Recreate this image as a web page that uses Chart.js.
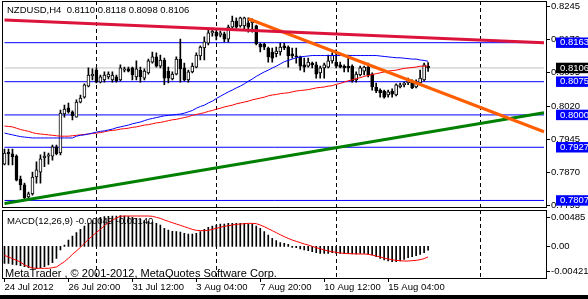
<!DOCTYPE html>
<html>
<head>
<meta charset="utf-8">
<script src="https://cdn.jsdelivr.net/npm/chart.js@4.4.0/dist/chart.umd.min.js"></script>
<style>
  html, body { margin: 0; padding: 0; background: #fff; }
  #wrap { position: relative; width: 588px; height: 299px; overflow: hidden; background: #fff; }
  #main { position: absolute; left: 0; top: 0; }
  #macd { position: absolute; left: 0; top: 209px; }
  #foot { position: absolute; left: 0; top: 295px; width: 588px; height: 4px; background: #000; }
</style>
</head>
<body>
<div id="wrap">
  <canvas id="main" width="588" height="208"></canvas>
  <canvas id="macd" width="588" height="90"></canvas>
  <div id="foot"></div>
</div>
<script>
const symbol = "NZDUSD,H4";

// H4 candles
const opens = [
  0.7889,0.7916,0.7912,0.7907,0.7855,0.7842,0.7815,0.7822,0.7860,0.7871,
  0.7903,0.7907,0.7907,0.7928,0.7914,0.8002,0.8016,0.8007,0.7995,0.8029,
  0.8040,0.8065,0.8088,0.8101,0.8074,0.8079,0.8086,0.8079,0.8086,0.8079,
  0.8101,0.8104,0.8106,0.8086,0.8101,0.8083,0.8095,0.8119,0.8131,0.8110,
  0.8124,0.8099,0.8081,0.8092,0.8126,0.8106,0.8079,0.8097,0.8108,0.8133,
  0.8151,0.8162,0.8185,0.8187,0.8180,0.8183,0.8171,0.8198,0.8212,0.8201,
  0.8201,0.8208,0.8208,0.8201,0.8160,0.8160,0.8151,0.8142,0.8138,0.8142,
  0.8156,0.8153,0.8138,0.8133,0.8131,0.8113,0.8110,0.8117,0.8113,0.8095,
  0.8106,0.8108,0.8122,0.8119,0.8113,0.8110,0.8110,0.8110,0.8079,0.8090,
  0.8099,0.8108,0.8092,0.8063,0.8056,0.8054,0.8045,0.8054,0.8045,0.8063,
  0.8068,0.8072,0.8074,0.8063,0.8072,0.8079,0.8110
];
const highs = [
  0.7923,0.7923,0.7923,0.7910,0.7862,0.7846,0.7826,0.7871,0.7894,0.7910,
  0.7916,0.7914,0.7932,0.7932,0.8011,0.8022,0.8027,0.8009,0.8034,0.8045,
  0.8070,0.8106,0.8104,0.8106,0.8090,0.8097,0.8097,0.8097,0.8090,0.8113,
  0.8108,0.8108,0.8108,0.8122,0.8108,0.8104,0.8126,0.8142,0.8140,0.8135,
  0.8128,0.8108,0.8097,0.8131,0.8171,0.8117,0.8101,0.8117,0.8140,0.8156,
  0.8176,0.8196,0.8196,0.8192,0.8189,0.8187,0.8203,0.8223,0.8219,0.8221,
  0.8221,0.8219,0.8217,0.8203,0.8162,0.8162,0.8153,0.8151,0.8153,0.8162,
  0.8162,0.8156,0.8151,0.8151,0.8133,0.8128,0.8128,0.8119,0.8119,0.8110,
  0.8117,0.8135,0.8140,0.8147,0.8119,0.8113,0.8135,0.8113,0.8097,0.8110,
  0.8110,0.8117,0.8095,0.8072,0.8059,0.8056,0.8056,0.8059,0.8070,0.8072,
  0.8074,0.8083,0.8079,0.8079,0.8101,0.8117,0.8118
];
const lows = [
  0.7887,0.7887,0.7887,0.7851,0.7831,0.7808,0.7810,0.7819,0.7846,0.7846,
  0.7883,0.7889,0.7898,0.7910,0.7910,0.7995,0.8004,0.7989,0.7995,0.8027,
  0.8038,0.8063,0.8079,0.8072,0.8072,0.8074,0.8081,0.8074,0.8074,0.8077,
  0.8097,0.8097,0.8079,0.8079,0.8074,0.8079,0.8092,0.8117,0.8108,0.8106,
  0.8068,0.8072,0.8079,0.8090,0.8074,0.8077,0.8074,0.8095,0.8106,0.8124,
  0.8124,0.8158,0.8178,0.8169,0.8176,0.8165,0.8165,0.8196,0.8196,0.8198,
  0.8192,0.8187,0.8187,0.8158,0.8142,0.8147,0.8119,0.8119,0.8131,0.8135,
  0.8147,0.8108,0.8128,0.8117,0.8101,0.8097,0.8108,0.8106,0.8083,0.8083,
  0.8083,0.8106,0.8117,0.8106,0.8106,0.8097,0.8097,0.8074,0.8074,0.8088,
  0.8090,0.8086,0.8056,0.8050,0.8040,0.8038,0.8040,0.8040,0.8043,0.8061,
  0.8063,0.8068,0.8059,0.8061,0.8070,0.8077,0.8098
];
const closes = [
  0.7914,0.7912,0.7905,0.7853,0.7842,0.7813,0.7822,0.7860,0.7876,0.7901,
  0.7907,0.7910,0.7928,0.7912,0.8004,0.8013,0.8007,0.7998,0.8029,0.8038,
  0.8068,0.8090,0.8092,0.8074,0.8086,0.8090,0.8092,0.8090,0.8077,0.8106,
  0.8104,0.8099,0.8090,0.8104,0.8086,0.8099,0.8122,0.8131,0.8110,0.8124,
  0.8083,0.8083,0.8092,0.8126,0.8104,0.8079,0.8097,0.8110,0.8135,0.8153,
  0.8165,0.8185,0.8189,0.8178,0.8185,0.8171,0.8198,0.8212,0.8198,0.8219,
  0.8219,0.8198,0.8212,0.8160,0.8153,0.8153,0.8131,0.8128,0.8144,0.8153,
  0.8151,0.8133,0.8133,0.8131,0.8110,0.8108,0.8119,0.8113,0.8092,0.8106,
  0.8113,0.8122,0.8135,0.8110,0.8108,0.8106,0.8106,0.8077,0.8092,0.8106,
  0.8108,0.8090,0.8063,0.8054,0.8050,0.8040,0.8052,0.8047,0.8068,0.8068,
  0.8072,0.8077,0.8061,0.8072,0.8083,0.8113,0.8106
];

// moving averages (blue and red)
const maBlue = [
  0.7959,0.7957,0.7955,0.7953,0.7951,0.7950,0.7949,0.7948,0.7948,0.7948,
  0.7948,0.7948,0.7948,0.7948,0.7948,0.7948,0.7948,0.7948,0.7952,0.7954,
  0.7955,0.7957,0.7959,0.7961,0.7963,0.7964,0.7966,0.7968,0.7971,0.7973,
  0.7975,0.7977,0.7980,0.7982,0.7984,0.7987,0.7990,0.7992,0.7994,0.7996,
  0.7998,0.7999,0.8000,0.8001,0.8002,0.8004,0.8007,0.8010,0.8015,0.8019,
  0.8022,0.8027,0.8031,0.8037,0.8042,0.8047,0.8052,0.8056,0.8061,0.8065,
  0.8070,0.8076,0.8081,0.8087,0.8092,0.8097,0.8101,0.8106,0.8110,0.8115,
  0.8120,0.8123,0.8126,0.8129,0.8131,0.8132,0.8133,0.8134,0.8134,0.8134,
  0.8134,0.8134,0.8134,0.8134,0.8134,0.8134,0.8134,0.8134,0.8134,0.8134,
  0.8134,0.8134,0.8134,0.8134,0.8133,0.8132,0.8131,0.8130,0.8129,0.8129,
  0.8128,0.8127,0.8126,0.8126,0.8124,0.8123,0.8121
];
const maRed = [
  0.7975,0.7974,0.7973,0.7970,0.7967,0.7965,0.7963,0.7960,0.7958,0.7957,
  0.7956,0.7955,0.7954,0.7953,0.7952,0.7952,0.7952,0.7953,0.7954,0.7955,
  0.7956,0.7957,0.7958,0.7959,0.7960,0.7962,0.7964,0.7965,0.7966,0.7968,
  0.7969,0.7970,0.7972,0.7973,0.7975,0.7977,0.7978,0.7980,0.7982,0.7983,
  0.7985,0.7987,0.7989,0.7990,0.7992,0.7994,0.7996,0.7999,0.8001,0.8003,
  0.8005,0.8008,0.8010,0.8013,0.8015,0.8018,0.8020,0.8022,0.8025,0.8027,
  0.8029,0.8031,0.8034,0.8036,0.8038,0.8040,0.8043,0.8045,0.8046,0.8048,
  0.8049,0.8050,0.8052,0.8054,0.8055,0.8056,0.8057,0.8059,0.8061,0.8062,
  0.8063,0.8065,0.8066,0.8069,0.8071,0.8074,0.8077,0.8079,0.8082,0.8084,
  0.8087,0.8089,0.8091,0.8093,0.8095,0.8097,0.8099,0.8100,0.8101,0.8103,
  0.8105,0.8106,0.8107,0.8108,0.8110,0.8110,0.8111
];

// MACD(12,26,9): main histogram and signal
const macdMain = [
  -0.00226,-0.00226,-0.00239,-0.00248,-0.00257,-0.00270,-0.00283,-0.00292,-0.00292,-0.00283,
  -0.00270,-0.00248,-0.00217,-0.00159,-0.00048,0.00019,0.00085,0.00139,0.00183,0.00227,
  0.00272,0.00307,0.00343,0.00369,0.00387,0.00396,0.00401,0.00405,0.00405,0.00409,
  0.00405,0.00396,0.00387,0.00374,0.00361,0.00343,0.00334,0.00325,0.00307,0.00285,
  0.00241,0.00218,0.00201,0.00196,0.00192,0.00174,0.00165,0.00165,0.00174,0.00196,
  0.00227,0.00254,0.00272,0.00285,0.00298,0.00298,0.00307,0.00307,0.00307,0.00307,
  0.00307,0.00298,0.00298,0.00272,0.00241,0.00196,0.00152,0.00107,0.00076,0.00050,
  0.00041,0.00028,-0.00012,-0.00017,-0.00035,-0.00048,-0.00057,-0.00070,-0.00083,-0.00092,
  -0.00092,-0.00092,-0.00083,-0.00092,-0.00092,-0.00092,-0.00092,-0.00101,-0.00101,-0.00092,
  -0.00092,-0.00101,-0.00115,-0.00137,-0.00159,-0.00181,-0.00195,-0.00203,-0.00203,-0.00195,
  -0.00172,-0.00150,-0.00137,-0.00123,-0.00106,-0.00083,-0.00049
];
const macdSignal = [
  -0.00119,-0.00141,-0.00163,-0.00186,-0.00208,-0.00248,-0.00270,-0.00288,-0.00292,-0.00292,
  -0.00292,-0.00292,-0.00283,-0.00274,-0.00239,-0.00203,-0.00159,-0.00106,-0.00061,-0.00012,
  0.00041,0.00094,0.00139,0.00187,0.00227,0.00276,0.00316,0.00352,0.00378,0.00401,
  0.00405,0.00405,0.00405,0.00405,0.00405,0.00405,0.00405,0.00401,0.00387,0.00374,
  0.00352,0.00334,0.00316,0.00298,0.00281,0.00263,0.00245,0.00227,0.00214,0.00210,
  0.00210,0.00214,0.00227,0.00241,0.00254,0.00267,0.00276,0.00285,0.00294,0.00298,
  0.00303,0.00307,0.00307,0.00303,0.00285,0.00263,0.00236,0.00210,0.00183,0.00156,
  0.00130,0.00107,0.00085,0.00068,0.00050,0.00032,0.00019,0.00001,-0.00017,-0.00030,
  -0.00048,-0.00061,-0.00070,-0.00079,-0.00088,-0.00092,-0.00097,-0.00097,-0.00101,-0.00101,
  -0.00101,-0.00106,-0.00115,-0.00128,-0.00141,-0.00155,-0.00168,-0.00177,-0.00186,-0.00190,
  -0.00195,-0.00195,-0.00190,-0.00186,-0.00177,-0.00163,-0.00140
];

// axes
const slotCount = 136;
const timeLabels = ["24 Jul 2012", "26 Jul 20:00", "31 Jul 12:00", "3 Aug 04:00", "7 Aug 20:00", "10 Aug 12:00", "15 Aug 04:00"];
const timeSlots = [0, 16, 32, 48, 64, 80, 96];
const separatorSlots = [23, 53, 83, 119];
const priceTicks = [0.8245, 0.8170, 0.8095, 0.8020, 0.7945, 0.7870, 0.7795];
const priceMin = 0.77922, priceMax = 0.82571;
const macdTicks = [0.00485, 0, -0.00421];

// horizontal levels and trend lines [slot, price]
const levels = [0.8163, 0.8075, 0.8000, 0.7927, 0.7807];
const bid = closes[closes.length - 1];
const crimsonLine = [[0, 0.8214], [135, 0.8163]];
const orangeLine = [[61, 0.8217], [135, 0.7962]];
const greenLine = [[0, 0.7800], [135, 0.8005]];

const FONT_FAMILY = '"Liberation Sans", Arial, sans-serif';
const FONT = { family: FONT_FAMILY, size: 9.5 };
const AXIS_W = 42;

const labels = Array.from({ length: slotCount }, (_, i) => {
  const k = timeSlots.indexOf(i);
  return k >= 0 ? timeLabels[k] : '';
});

function trend(points) {
  const d = new Array(slotCount).fill(null);
  points.forEach(([i, v]) => { d[i] = v; });
  return d;
}

const fitBox = (w, h) => s => {
  if (w != null) s.width = w;
  if (h != null) s.height = h;
  s.paddingLeft = s.paddingRight = s.paddingTop = s.paddingBottom = 0;
};

const sepColor = c => separatorSlots.includes(c.index) ? '#000' : 'rgba(0,0,0,0)';
const levelTicks = levels.concat([bid]);
const levelBoxColors = levels.map(() => '#0000ff').concat(['#000000']);

// the level axis takes no room of its own; it is laid over the price axis
const overlayLevels = {
  id: 'overlayLevels',
  afterLayout(chart) {
    const s = chart.scales.lv;
    s.right = s.left + AXIS_W;
    s.width = AXIS_W;
  }
};

const frame = {
  id: 'frame',
  afterDraw(chart) {
    const { ctx, chartArea: a } = chart;
    ctx.save();
    ctx.strokeStyle = '#000';
    ctx.lineWidth = 1;
    const l = Math.floor(a.left), t = Math.floor(a.top), r = Math.floor(a.right), b = Math.floor(a.bottom);
    ctx.strokeRect(l + 0.5, t + 0.5, r - l, b - t);
    ctx.restore();
  }
};

const mainText = {
  id: 'mainText',
  afterDraw(chart) {
    const ctx = chart.ctx;
    const n = closes.length - 1;
    const txt = symbol + '  ' + [opens[n], highs[n], lows[n], closes[n]].map(v => v.toFixed(4)).join(' ');
    ctx.save();
    ctx.font = '9.5px ' + FONT_FAMILY;
    ctx.fillStyle = '#000';
    ctx.textBaseline = 'middle';
    ctx.fillText(txt, 7, 10.5);
    ctx.restore();
  }
};

const macdText = {
  id: 'macdText',
  afterDraw(chart) {
    const ctx = chart.ctx;
    const ys = chart.scales.y;
    const n = macdMain.length - 1;
    ctx.save();
    ctx.fillStyle = '#000';
    ctx.strokeStyle = '#000';
    ctx.textBaseline = 'middle';
    ctx.font = '9.5px ' + FONT_FAMILY;
    ctx.fillText('MACD(12,26,9) ' + macdMain[n].toFixed(5) + ' ' + macdSignal[n].toFixed(5), 7, 12);
    macdTicks.forEach(v => {
      let py = ys.getPixelForValue(v);
      py = Math.min(Math.max(py, ys.top + 7), ys.bottom - 7);
      ctx.fillText(v === 0 ? '0.00' : v.toFixed(5), 551, py);
      ctx.beginPath();
      ctx.moveTo(546, Math.round(py) + 0.5);
      ctx.lineTo(550, Math.round(py) + 0.5);
      ctx.stroke();
    });
    ctx.font = '11px ' + FONT_FAMILY;
    ctx.fillText('MetaTrader , \u00a9 2001-2012, MetaQuotes Software Corp.', 5, 64.5);
    ctx.restore();
  }
};

const lineDs = (data, color, width, order) => ({
  type: 'line', data, yAxisID: 'y', borderColor: color, borderWidth: width,
  pointRadius: 0, tension: 0, spanGaps: true, order
});

// horizontal level as a line across all slots
const hline = (v, color) => lineDs(trend([[0, v], [slotCount - 1, v]]), color, 1, 4);

new Chart(document.getElementById('main'), {
  type: 'bar',
  data: {
    labels,
    datasets: [
      lineDs(trend(crimsonLine), '#dc143c', 3, 0),
      lineDs(trend(orangeLine), '#ff5f00', 3, 0),
      lineDs(trend(greenLine), '#008000', 3, 0),
      lineDs(maBlue, '#0000ff', 1, 1),
      lineDs(maRed, '#ff0000', 1, 1),
      {
        data: opens.map((o, i) => [o, closes[i]]), yAxisID: 'y',
        backgroundColor: c => closes[c.dataIndex] >= opens[c.dataIndex] ? '#fff' : '#000',
        borderColor: '#000', borderWidth: 1, borderSkipped: false,
        barThickness: 3, minBarLength: 1, grouped: false, order: 2
      },
      {
        data: lows.map((l, i) => [l, highs[i]]), yAxisID: 'y',
        backgroundColor: '#000', borderWidth: 0,
        barThickness: 1, grouped: false, order: 3
      },
      ...levels.map(v => hline(v, '#0000ff')),
      hline(bid, '#c0c0c0')
    ]
  },
  options: {
    responsive: false, animation: false, devicePixelRatio: 1,
    layout: { padding: { left: 2.5, top: 1, right: 0, bottom: 0 } },
    plugins: { legend: { display: false }, tooltip: { enabled: false } },
    scales: {
      x: {
        offset: true,
        ticks: { display: false },
        grid: { offset: false, drawTicks: false, color: sepColor, lineWidth: 1 },
        border: { display: false, dash: [4, 3] },
        afterFit: fitBox(null, 1)
      },
      y: {
        type: 'linear', position: 'right', weight: 1, min: priceMin, max: priceMax,
        afterBuildTicks: s => { s.ticks = priceTicks.map(v => ({ value: v })); },
        afterFit: fitBox(AXIS_W, null),
        ticks: { font: FONT, color: '#000', padding: 1, callback: v => v.toFixed(4) },
        grid: { drawOnChartArea: false, drawTicks: true, tickLength: 4, color: '#000' },
        border: { display: false }
      },
      lv: {
        type: 'linear', position: 'right', weight: 0, min: priceMin, max: priceMax,
        afterBuildTicks: s => { s.ticks = levelTicks.map(v => ({ value: v })); },
        afterFit: fitBox(0, null),
        ticks: {
          font: { family: FONT_FAMILY, size: 9.5, lineHeight: 1.1 }, color: '#fff', padding: 6, z: 1,
          showLabelBackdrop: true,
          backdropColor: levelBoxColors,
          backdropPadding: { left: 4, right: 3, top: 0, bottom: 0 },
          callback: v => v.toFixed(4)
        },
        grid: { display: false },
        border: { display: false }
      }
    }
  },
  plugins: [overlayLevels, frame, mainText]
});

new Chart(document.getElementById('macd'), {
  type: 'bar',
  data: {
    labels,
    datasets: [
      { type: 'line', data: macdSignal, borderColor: '#ff0000', borderWidth: 1, pointRadius: 0, tension: 0, order: 0 },
      { data: macdMain, backgroundColor: '#000', borderWidth: 0, barThickness: 1, grouped: false, order: 1 }
    ]
  },
  options: {
    responsive: false, animation: false, devicePixelRatio: 1,
    layout: { padding: { left: 2.5, top: 1, right: 0, bottom: 0 } },
    plugins: { legend: { display: false }, tooltip: { enabled: false } },
    scales: {
      x: {
        offset: true,
        ticks: { font: FONT, color: '#000', autoSkip: false, maxRotation: 0, minRotation: 0, align: 'start', padding: 0 },
        grid: {
          offset: false, drawTicks: true, tickLength: 4, color: sepColor,
          tickColor: c => timeSlots.includes(c.index) ? '#000' : 'rgba(0,0,0,0)'
        },
        border: { display: false, dash: [4, 3] },
        afterFit: fitBox(null, 21)
      },
      y: {
        type: 'linear', position: 'right', min: macdTicks[2], max: macdTicks[0],
        ticks: { display: false },
        grid: { display: false },
        border: { display: false },
        afterFit: fitBox(AXIS_W, null)
      }
    }
  },
  plugins: [frame, macdText]
});
</script>
</body>
</html>
